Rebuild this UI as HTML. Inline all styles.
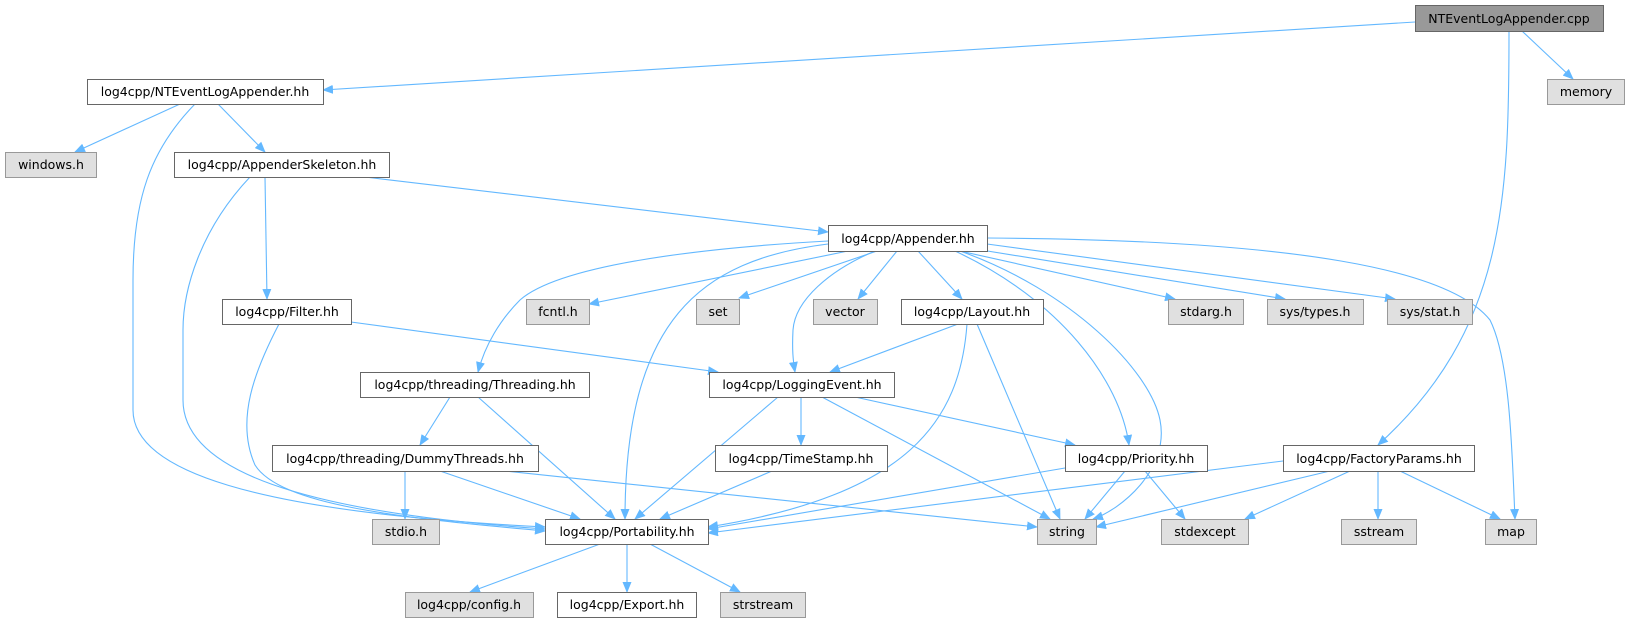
<!DOCTYPE html>
<html><head><meta charset="utf-8"><style>
html,body{margin:0;padding:0;background:#fff;}
svg text{font-family:"DejaVu Sans","Liberation Sans",sans-serif;font-size:12.5px;fill:#000;}
</style></head><body>
<svg width="1629" height="623" viewBox="0 0 1629 623" xmlns="http://www.w3.org/2000/svg">
<defs><marker id="a" markerWidth="11" markerHeight="9" refX="10" refY="4.5" orient="auto" markerUnits="userSpaceOnUse"><path d="M0,0 L11,4.5 L0,9 z" fill="#63b8ff"/></marker></defs>
<g fill="none" stroke="#63b8ff" stroke-width="1.1" marker-end="url(#a)">
<path d="M1415,22 L323,90"/>
<path d="M1522,31 L1573,79"/>
<path d="M1509,31 C1509,200 1505,330 1378,445"/>
<path d="M180,104 L75,152"/>
<path d="M218,104 L265,152"/>
<path d="M195,104 C150,150 133,200 133,280 L133,410 C133,470 250,512 545,527"/>
<path d="M265,177 L267,299"/>
<path d="M250,177 C200,230 183,290 183,330 L183,400 C183,470 300,512 545,529"/>
<path d="M365,177 L828,232"/>
<path d="M279,324 C255,370 235,420 255,465 C280,505 400,518 545,531"/>
<path d="M351,322 L718,372"/>
<path d="M848,251 L589,304"/>
<path d="M877,251 L739,298"/>
<path d="M897,251 L858,299"/>
<path d="M918,251 L962,299"/>
<path d="M960,251 L1175,299"/>
<path d="M975,249 L1285,299"/>
<path d="M987,244 L1395,299"/>
<path d="M828,241 C700,248 560,265 520,300 C500,320 485,345 478,372"/>
<path d="M875,251 C830,270 795,300 793,330 C792,350 793,360 795,372"/>
<path d="M828,244 C700,260 625,320 625,519"/>
<path d="M955,251 C1060,300 1120,380 1129,445"/>
<path d="M960,251 C1070,290 1150,370 1160,420 C1170,470 1120,510 1093,519"/>
<path d="M987,238 C1300,240 1450,270 1490,320 C1510,360 1512,450 1515,519"/>
<path d="M958,324 L830,372"/>
<path d="M967,324 C960,420 910,495 708,527"/>
<path d="M977,324 L1060,519"/>
<path d="M450,397 L420,445"/>
<path d="M478,397 L615,519"/>
<path d="M778,397 L635,519"/>
<path d="M801,397 L801,445"/>
<path d="M822,397 L1050,519"/>
<path d="M855,397 L1075,445"/>
<path d="M405,471 L405,519"/>
<path d="M440,471 L580,519"/>
<path d="M505,471 L1037,527"/>
<path d="M772,471 L660,519"/>
<path d="M1065,468 L708,529"/>
<path d="M1125,471 L1085,519"/>
<path d="M1145,471 L1185,519"/>
<path d="M1283,461 L708,533"/>
<path d="M1330,471 L1096,527"/>
<path d="M1350,471 L1245,519"/>
<path d="M1378,471 L1378,519"/>
<path d="M1400,471 L1500,519"/>
<path d="M600,544 L470,592"/>
<path d="M627,544 L627,592"/>
<path d="M650,544 L740,592"/>
</g>
<g stroke-width="1">
<rect x="1415.5" y="5.5" width="188" height="26" fill="#999" stroke="#666"/>
<rect x="87.5" y="79.5" width="236" height="25" fill="#fff" stroke="#666"/>
<rect x="1547.5" y="79.5" width="77" height="25" fill="#e0e0e0" stroke="#999"/>
<rect x="5.5" y="152.5" width="91" height="25" fill="#e0e0e0" stroke="#999"/>
<rect x="174.5" y="152.5" width="215" height="25" fill="#fff" stroke="#666"/>
<rect x="828.5" y="225.5" width="159" height="26" fill="#fff" stroke="#666"/>
<rect x="222.5" y="299.5" width="129" height="25" fill="#fff" stroke="#666"/>
<rect x="526.5" y="299.5" width="63" height="25" fill="#e0e0e0" stroke="#999"/>
<rect x="696.5" y="299.5" width="43" height="25" fill="#e0e0e0" stroke="#999"/>
<rect x="813.5" y="299.5" width="64" height="25" fill="#e0e0e0" stroke="#999"/>
<rect x="901.5" y="299.5" width="142" height="25" fill="#fff" stroke="#666"/>
<rect x="1168.5" y="299.5" width="75" height="25" fill="#e0e0e0" stroke="#999"/>
<rect x="1267.5" y="299.5" width="96" height="25" fill="#e0e0e0" stroke="#999"/>
<rect x="1387.5" y="299.5" width="85" height="25" fill="#e0e0e0" stroke="#999"/>
<rect x="360.5" y="372.5" width="229" height="25" fill="#fff" stroke="#666"/>
<rect x="709.5" y="372.5" width="185" height="25" fill="#fff" stroke="#666"/>
<rect x="272.5" y="445.5" width="266" height="26" fill="#fff" stroke="#666"/>
<rect x="715.5" y="445.5" width="172" height="26" fill="#fff" stroke="#666"/>
<rect x="1065.5" y="445.5" width="142" height="26" fill="#fff" stroke="#666"/>
<rect x="1283.5" y="445.5" width="191" height="26" fill="#fff" stroke="#666"/>
<rect x="372.5" y="519.5" width="67" height="25" fill="#e0e0e0" stroke="#999"/>
<rect x="545.5" y="519.5" width="163" height="25" fill="#fff" stroke="#666"/>
<rect x="1037.5" y="519.5" width="59" height="25" fill="#e0e0e0" stroke="#999"/>
<rect x="1161.5" y="519.5" width="87" height="25" fill="#e0e0e0" stroke="#999"/>
<rect x="1341.5" y="519.5" width="75" height="25" fill="#e0e0e0" stroke="#999"/>
<rect x="1485.5" y="519.5" width="51" height="25" fill="#e0e0e0" stroke="#999"/>
<rect x="405.5" y="592.5" width="128" height="25" fill="#e0e0e0" stroke="#999"/>
<rect x="557.5" y="592.5" width="139" height="25" fill="#fff" stroke="#666"/>
<rect x="720.5" y="592.5" width="85" height="25" fill="#e0e0e0" stroke="#999"/>
</g>
<g text-anchor="middle">
<text x="1509" y="23">NTEventLogAppender.cpp</text>
<text x="205" y="96">log4cpp/NTEventLogAppender.hh</text>
<text x="1586" y="96">memory</text>
<text x="51" y="169">windows.h</text>
<text x="282" y="169">log4cpp/AppenderSkeleton.hh</text>
<text x="908" y="243">log4cpp/Appender.hh</text>
<text x="287" y="316">log4cpp/Filter.hh</text>
<text x="558" y="316">fcntl.h</text>
<text x="718" y="316">set</text>
<text x="845" y="316">vector</text>
<text x="972" y="316">log4cpp/Layout.hh</text>
<text x="1206" y="316">stdarg.h</text>
<text x="1315" y="316">sys/types.h</text>
<text x="1430" y="316">sys/stat.h</text>
<text x="475" y="389">log4cpp/threading/Threading.hh</text>
<text x="802" y="389">log4cpp/LoggingEvent.hh</text>
<text x="405" y="463">log4cpp/threading/DummyThreads.hh</text>
<text x="801" y="463">log4cpp/TimeStamp.hh</text>
<text x="1136" y="463">log4cpp/Priority.hh</text>
<text x="1379" y="463">log4cpp/FactoryParams.hh</text>
<text x="406" y="536">stdio.h</text>
<text x="627" y="536">log4cpp/Portability.hh</text>
<text x="1067" y="536">string</text>
<text x="1205" y="536">stdexcept</text>
<text x="1379" y="536">sstream</text>
<text x="1511" y="536">map</text>
<text x="469" y="609">log4cpp/config.h</text>
<text x="627" y="609">log4cpp/Export.hh</text>
<text x="763" y="609">strstream</text>
</g>
</svg>
</body></html>
